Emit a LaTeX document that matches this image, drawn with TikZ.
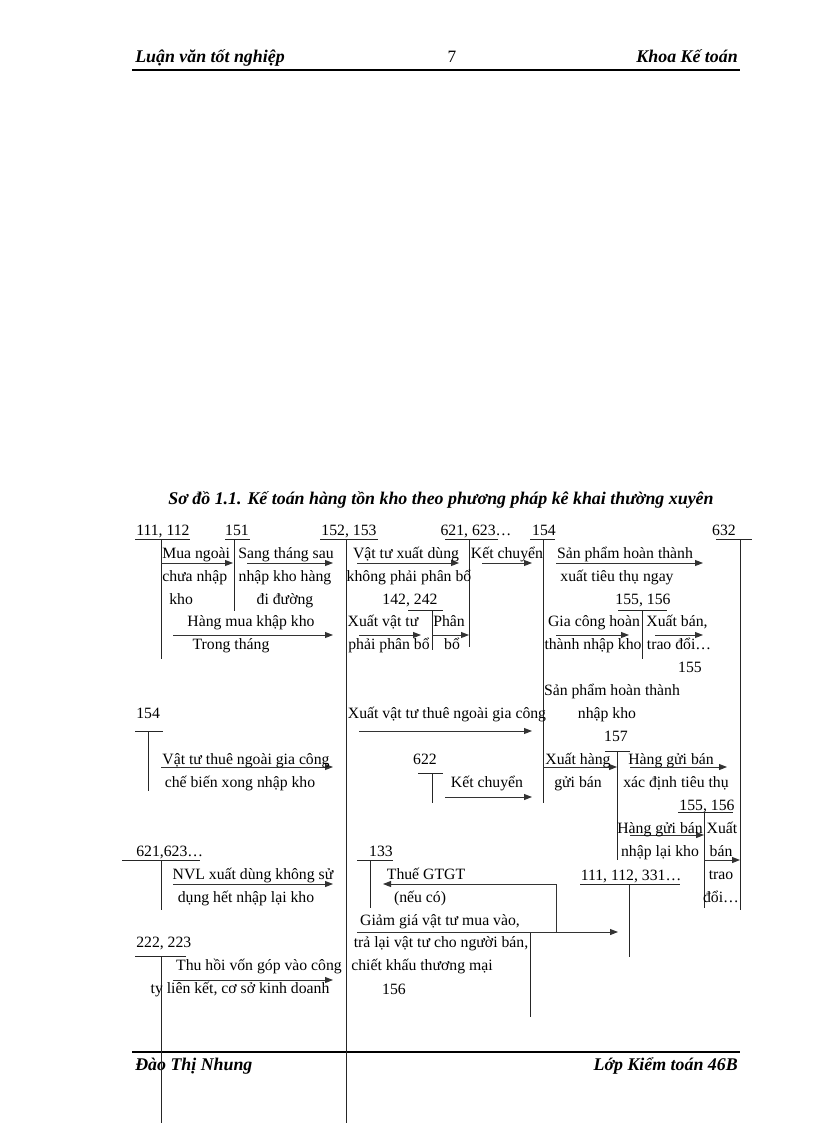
\documentclass[tikz,border=0pt]{standalone}
\usepackage{fontspec}
\setmainfont{Liberation Serif}
\usetikzlibrary{arrows.meta}
\tikzset{
 t/.style={inner sep=0pt,anchor=base,yshift=-3.2pt,font=\fontsize{11.8}{13}\selectfont},
 hd/.style={inner sep=0pt,anchor=base,yshift=-3.6pt,font=\fontsize{13.4}{15}\selectfont\bfseries\itshape},
 ln/.style={line width=0.7pt,draw=black!85},
 ar/.style={line width=0.7pt,draw=black!80,-{Triangle[length=6pt,width=4.5pt]}},
 rl/.style={line width=1.6pt}
}
\begin{document}
\begin{tikzpicture}[x=0.75pt,y=-0.75pt]
\useasboundingbox (0,0) rectangle (816,1123);
% header/footer
\node[hd,anchor=base west] (h1) at (135,58) {Luận văn tốt nghiệp};
\node[hd,font=\fontsize{13}{15}\selectfont] (h2) at (452,58) {7};
\node[hd,anchor=base east] (h3) at (738,58) {Khoa Kế toán};
\draw[rl] (132,70) -- (740,70);
\draw[rl] (132,1052) -- (740,1052);
\node[hd,anchor=base west] (f1) at (135,1066) {Đào Thị Nhung};
\node[hd,anchor=base east] (f2) at (738,1066) {Lớp Kiểm toán 46B};
\node[hd] (ti) at (441,500) {Sơ đồ 1.1. Kế toán hàng tồn kho theo phương pháp kê khai thường xuyên};
% account labels
\node[t,anchor=base west] (a1) at (136,531) {111, 112};
\node[t] (a2) at (237,531) {151};
\node[t] (a3) at (349,531) {152, 153};
\node[t] (a4) at (476,531) {621, 623…};
\node[t] (a5) at (544,531) {154};
\node[t] (a6) at (724,531) {632};
\node[t] (a7) at (410,600) {142, 242};
\node[t] (a8) at (643,600) {155, 156};
\node[t] (a9) at (690,668) {155};
\node[t,anchor=base west] (a10) at (136,714) {154};
\node[t] (a11) at (616,737) {157};
\node[t] (a12) at (425,760) {622};
\node[t] (a13) at (707,806) {155, 156};
\node[t,anchor=base west] (a14) at (136,852) {621,623…};
\node[t] (a15) at (381,852) {133};
\node[t] (a16) at (631,876) {111, 112, 331…};
\node[t,anchor=base west] (a17) at (136,943) {222, 223};
\node[t] (a18) at (394,990) {156};
% T accounts
\draw[ln] (135,539)--(190,539) (161,539)--(161,659);
\draw[ln] (225,539)--(250,539) (234,539)--(234,611);
\draw[ln] (320,539)--(378,539) (346,539)--(346,1123);
\draw[ln] (445,539)--(498,539) (469,539)--(469,647);
\draw[ln] (530,539)--(555,539) (543,539)--(543,803);
\draw[ln] (716,539)--(752,539) (740,539)--(740,910);
\draw[ln] (408,610)--(443,610) (432,610)--(432,650);
\draw[ln] (618,610)--(667,610) (642,610)--(642,659);
\draw[ln] (135,731)--(163,731) (148,731)--(148,791);
\draw[ln] (605,751)--(630,751) (617,751)--(617,860);
\draw[ln] (418,773)--(443,773) (432,773)--(432,803);
\draw[ln] (678,812)--(733,812) (704,812)--(704,908);
\draw[ln] (122,860)--(200,860) (161,860)--(161,910);
\draw[ln] (357,860)--(393,860) (370,860)--(370,908);
\draw[ln] (580,884)--(680,884) (629,884)--(629,957);
\draw[ln] (135,956)--(186,956) (161,956)--(161,1123);
\draw[ln] (530,933)--(530,1017);
% arrows
\draw[ar] (161,563)--(233,563);
\draw[ar] (247,563)--(333,563);
\draw[ar] (173,635)--(333,635);
\draw[ar] (357,563)--(459,563);
\draw[ar] (482,563)--(532,563);
\draw[ar] (359,635)--(421,635);
\draw[ar] (432,635)--(469,635);
\draw[ar] (556,563)--(703,563);
\draw[ar] (556,635)--(629,635);
\draw[ar] (655,635)--(703,635);
\draw[ar] (359,731)--(532,731);
\draw[ar] (161,767)--(333,767);
\draw[ar] (445,797)--(532,797);
\draw[ar] (543,767)--(617,767);
\draw[ar] (630,767)--(727,767);
\draw[ar] (630,835)--(704,835);
\draw[ar] (704,860)--(740,860);
\draw[ar] (173,884)--(333,884);
\draw[ar] (556,932)--(556,884)--(383,884);
\draw[ar] (357,932)--(618,932);
\draw[ar] (173,980)--(333,980);
% texts
\node[t,anchor=base west] (b1) at (162,554) {Mua ngoài};
\node[t,anchor=base west] (b2) at (162,577) {chưa nhập};
\node[t,anchor=base west] (b3) at (169,600) {kho};
\node[t] (b4) at (286,554) {Sang tháng sau};
\node[t] (b5) at (285,577) {nhập kho hàng};
\node[t] (b6) at (285,600) {đi đường};
\node[t] (b7) at (251,622) {Hàng mua khập kho};
\node[t] (b8) at (231,645) {Trong tháng};
\node[t] (b9) at (406,554) {Vật tư xuất dùng};
\node[t] (b10) at (409,577) {không phải phân bổ};
\node[t] (b11) at (507,554) {Kết chuyển};
\node[t] (b12) at (383,622) {Xuất vật tư};
\node[t] (b13) at (389,645) {phải phân bổ};
\node[t] (b14) at (449,622) {Phân};
\node[t] (b15) at (452,645) {bổ};
\node[t] (b16) at (625,554) {Sản phẩm hoàn thành};
\node[t] (b17) at (617,577) {xuất tiêu thụ ngay};
\node[t] (b18) at (594,622) {Gia công hoàn};
\node[t] (b19) at (593,645) {thành nhập kho};
\node[t] (b20) at (677,622) {Xuất bán,};
\node[t] (b21) at (679,645) {trao đổi…};
\node[t] (b22) at (612,691) {Sản phẩm hoàn thành};
\node[t] (b23) at (607,714) {nhập kho};
\node[t] (b24) at (447,714) {Xuất vật tư thuê ngoài gia công};
\node[t] (b25) at (246,760) {Vật tư thuê ngoài gia công};
\node[t] (b26) at (240,783) {chế biến xong nhập kho};
\node[t] (b27) at (487,783) {Kết chuyển};
\node[t] (b28) at (578,760) {Xuất hàng};
\node[t] (b29) at (578,783) {gửi bán};
\node[t] (b30) at (671,760) {Hàng gửi bán};
\node[t] (b31) at (676,783) {xác định tiêu thụ};
\node[t] (b32) at (660,829) {Hàng gửi bán};
\node[t] (b33) at (660,852) {nhập lại kho};
\node[t] (b34) at (722,829) {Xuất};
\node[t] (b35) at (721,852) {bán};
\node[t] (b36) at (721,875) {trao};
\node[t] (b37) at (721,898) {đổi…};
\node[t] (b38) at (253,875) {NVL xuất dùng không sử};
\node[t] (b39) at (246,898) {dụng hết nhập lại kho};
\node[t] (b40) at (426,875) {Thuế GTGT};
\node[t] (b41) at (420,898) {(nếu có)};
\node[t] (b42) at (440,921) {Giảm giá vật tư mua vào,};
\node[t] (b43) at (441,943) {trả lại vật tư cho người bán,};
\node[t] (b44) at (422,966) {chiết khấu thương mại};
\node[t] (b45) at (259,966) {Thu hồi vốn góp vào công};
\node[t] (b46) at (240,989) {ty liên kết, cơ sở kinh doanh};
\end{tikzpicture}
\end{document}
